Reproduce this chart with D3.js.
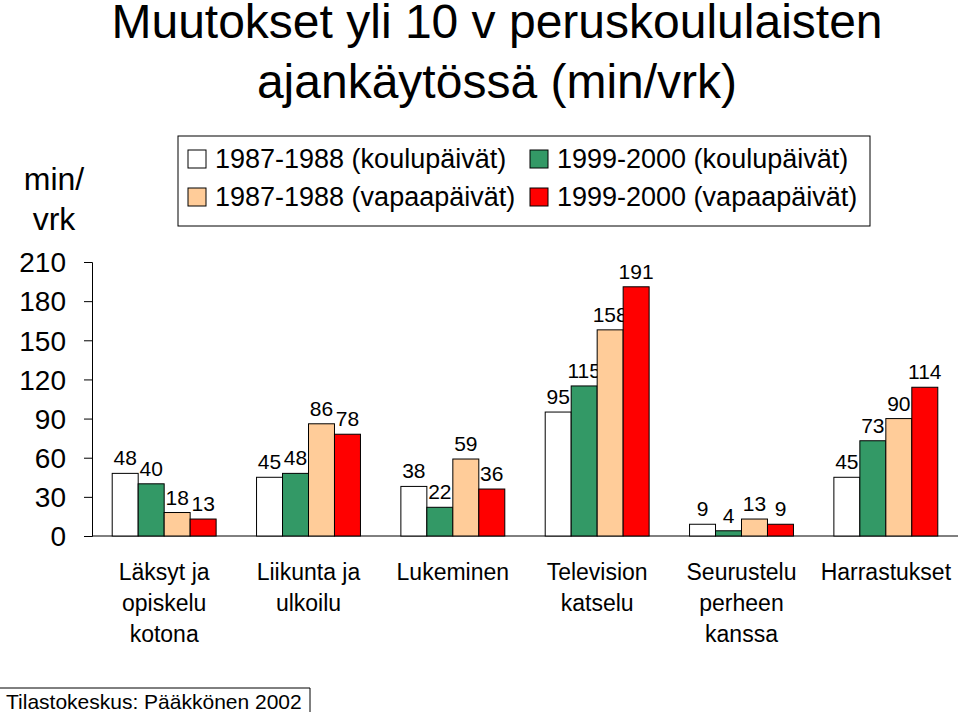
<!DOCTYPE html>
<html><head><meta charset="utf-8">
<script src="https://cdn.jsdelivr.net/npm/d3@7"></script>
<style>body{margin:0;background:#fff}text{font-family:"Liberation Sans",Arial,sans-serif}</style>
</head><body><div id="chart"></div>
<script>
const categories = [["Läksyt ja","opiskelu","kotona"],["Liikunta ja","ulkoilu"],["Lukeminen"],["Television","katselu"],["Seurustelu","perheen","kanssa"],["Harrastukset"]];
const seriesNames = ["1987-1988 (koulupäivät)","1999-2000 (koulupäivät)","1987-1988 (vapaapäivät)","1999-2000 (vapaapäivät)"];
const koulu8788 = [48,45,38,95,9,45];
const koulu9900 = [40,48,22,115,4,73];
const vapaa8788 = [18,86,59,158,13,90];
const vapaa9900 = [13,78,36,191,9,114];
const colors = ["#ffffff","#339966","#ffcc99","#ff0000"];
const yTicks = [0,30,60,90,120,150,180,210];

const series = [koulu8788,koulu9900,vapaa8788,vapaa9900];
const W=960,H=712;
const svg=d3.select("#chart").append("svg").attr("width",W).attr("height",H);

const y=d3.scaleLinear().domain([0,210]).range([536,262]);
const x0=d3.scaleBand().domain(d3.range(6)).range([92,958]).paddingInner(0.28).paddingOuter(0.14);
const x1=d3.scaleBand().domain(d3.range(4)).range([0,x0.bandwidth()]);

svg.append("text").attr("x",497).attr("y",38).attr("text-anchor","middle").attr("font-size",48).text("Muutokset yli 10 v peruskoululaisten");
svg.append("text").attr("x",497).attr("y",98).attr("text-anchor","middle").attr("font-size",48).text("ajankäytössä (min/vrk)");
svg.append("text").attr("x",54).attr("y",190).attr("text-anchor","middle").attr("font-size",32).text("min/");
svg.append("text").attr("x",54).attr("y",230).attr("text-anchor","middle").attr("font-size",32).text("vrk");

const ax=svg.append("g").attr("transform","translate(92,0)")
  .call(d3.axisLeft(y).tickValues(yTicks).tickSize(8).tickPadding(18));
ax.select(".domain").attr("stroke","#000");
ax.selectAll("text").attr("font-size",28).attr("fill","#000").attr("dy","0.35em");
svg.append("line").attr("x1",92).attr("x2",958).attr("y1",536).attr("y2",536).attr("stroke","#000");

series.forEach((s,si)=>{
  const g=svg.append("g");
  g.selectAll("rect").data(s).join("rect")
    .attr("x",(d,i)=>x0(i)+x1(si)).attr("width",x1.bandwidth())
    .attr("y",d=>y(d)).attr("height",d=>536-y(d))
    .attr("fill",colors[si]).attr("stroke","#000");
  g.selectAll("text").data(s).join("text")
    .attr("x",(d,i)=>x0(i)+x1(si)+x1.bandwidth()/2).attr("y",d=>y(d)-8)
    .attr("text-anchor","middle").attr("font-size",21).text(d=>d);
});

categories.forEach((lines,i)=>{
  lines.forEach((l,j)=>svg.append("text").attr("x",x0(i)+x0.bandwidth()/2).attr("y",580+j*31)
    .attr("text-anchor","middle").attr("font-size",23).text(l));
});

// legend
svg.append("rect").attr("x",178).attr("y",136).attr("width",692).attr("height",90).attr("fill","#fff").attr("stroke","#000");
seriesNames.forEach((n,i)=>{
  const col=i%2===0?0:1,row=i<2?0:1;
  const lx=188+col*342, ly=150+row*38;
  svg.append("rect").attr("x",lx).attr("y",ly).attr("width",18).attr("height",18).attr("fill",colors[i]).attr("stroke","#000");
  svg.append("text").attr("x",lx+27).attr("y",ly+18).attr("font-size",27).text(n);
});

svg.append("line").attr("x1",0).attr("x2",310).attr("y1",688).attr("y2",688).attr("stroke","#000");
svg.append("line").attr("x1",310).attr("x2",310).attr("y1",688).attr("y2",712).attr("stroke","#000");
svg.append("text").attr("x",6).attr("y",709).attr("font-size",21).text("Tilastokeskus: Pääkkönen 2002");
</script></body></html>
